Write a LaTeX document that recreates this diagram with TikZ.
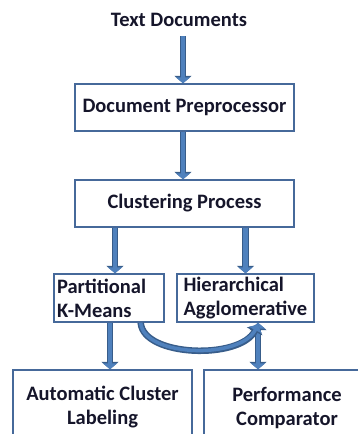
\documentclass[tikz,border=0pt]{standalone}
\usepackage{fontspec}
\setmainfont{Carlito}
\usetikzlibrary{arrows.meta}

\definecolor{arrowblue}{HTML}{4F81BD}
\definecolor{arrowedge}{HTML}{385D8A}
\definecolor{boxedge}{HTML}{46699A}
\definecolor{inktext}{HTML}{15152A}

\tikzset{
  block/.style={draw=boxedge, line width=1.4pt, fill=white, text=inktext,
    font=\bfseries\fontsize{20.5}{24}\selectfont, inner sep=2pt},
  flow/.style={line width=4.5pt, draw=arrowblue, -{Triangle[width=14pt,length=6pt]},
    preaction={draw=arrowedge, line width=6.5pt, -{Triangle[width=17pt,length=7.5pt]}}},
  flowboth/.style={line width=4.5pt, draw=arrowblue,
    {Triangle[width=14pt,length=6pt]}-{Triangle[width=14pt,length=6pt]},
    preaction={draw=arrowedge, line width=6.5pt,
      {Triangle[width=17pt,length=7.5pt]}-{Triangle[width=17pt,length=7.5pt]}}},
}

\begin{document}
\begin{tikzpicture}[x=1pt, y=-1pt]
    \useasboundingbox (0,0) rectangle (357,434);
    %\draw [help lines, step=10] (0,0) grid (357,434);

    % input and the two main stages
    \node [text=inktext, font=\bfseries\fontsize{20.5}{24}\selectfont] (txt) at (179,20) {Text Documents};
    \node [block, minimum width=219pt, minimum height=47pt] (pre) at (184.5,107.5) {Document Preprocessor};
    \node [block, minimum width=219pt, minimum height=47pt] (clu) at (184.5,203.5) {Clustering Process};

    % the two clustering methods
    \node [block, minimum width=110pt, minimum height=48pt, text width=104pt, align=left, inner xsep=3pt]
        (part) at (109,298) {Partitional\\K-Means};
    \node [block, minimum width=137pt, minimum height=48pt, text width=124pt, align=left, inner xsep=6.5pt]
        (hier) at (245.5,298) {Hierarchical\\Agglomerative};

    % results (run off the bottom edge)
    \node [block, minimum width=179pt, minimum height=75pt, align=center]
        (auto) at (102.5,407.5) {Automatic Cluster\\Labeling};
    \node [block, minimum width=166pt, minimum height=75pt, align=center]
        (perf) at (287,407.5) {Performance\\Comparator};

    % arrows
    \draw [flow] ([xshift=-1.5pt]pre.north |- 0,36) -- ([xshift=-1.5pt]pre.north);
    \draw [flow] ([xshift=-1.5pt]pre.south) -- ([xshift=-1.5pt]clu.north);
    \draw [flow] ([xshift=6pt]part.north |- clu.south) -- ([xshift=6pt]part.north);
    \draw [flow] (hier.north |- clu.south) -- (hier.north);
    \draw [flow] ([xshift=1pt]part.south) -- ([xshift=1pt]part.south |- auto.north);
    \draw [flowboth] ([xshift=12.5pt]hier.south) -- ([xshift=12.5pt]hier.south |- perf.north);
    \draw [flow, line width=3.5pt] ([xshift=-24pt]part.south east)
        .. controls (143,357) and (240,360) .. ([xshift=12.5pt, yshift=-2pt]hier.south);

\end{tikzpicture}
\end{document}
